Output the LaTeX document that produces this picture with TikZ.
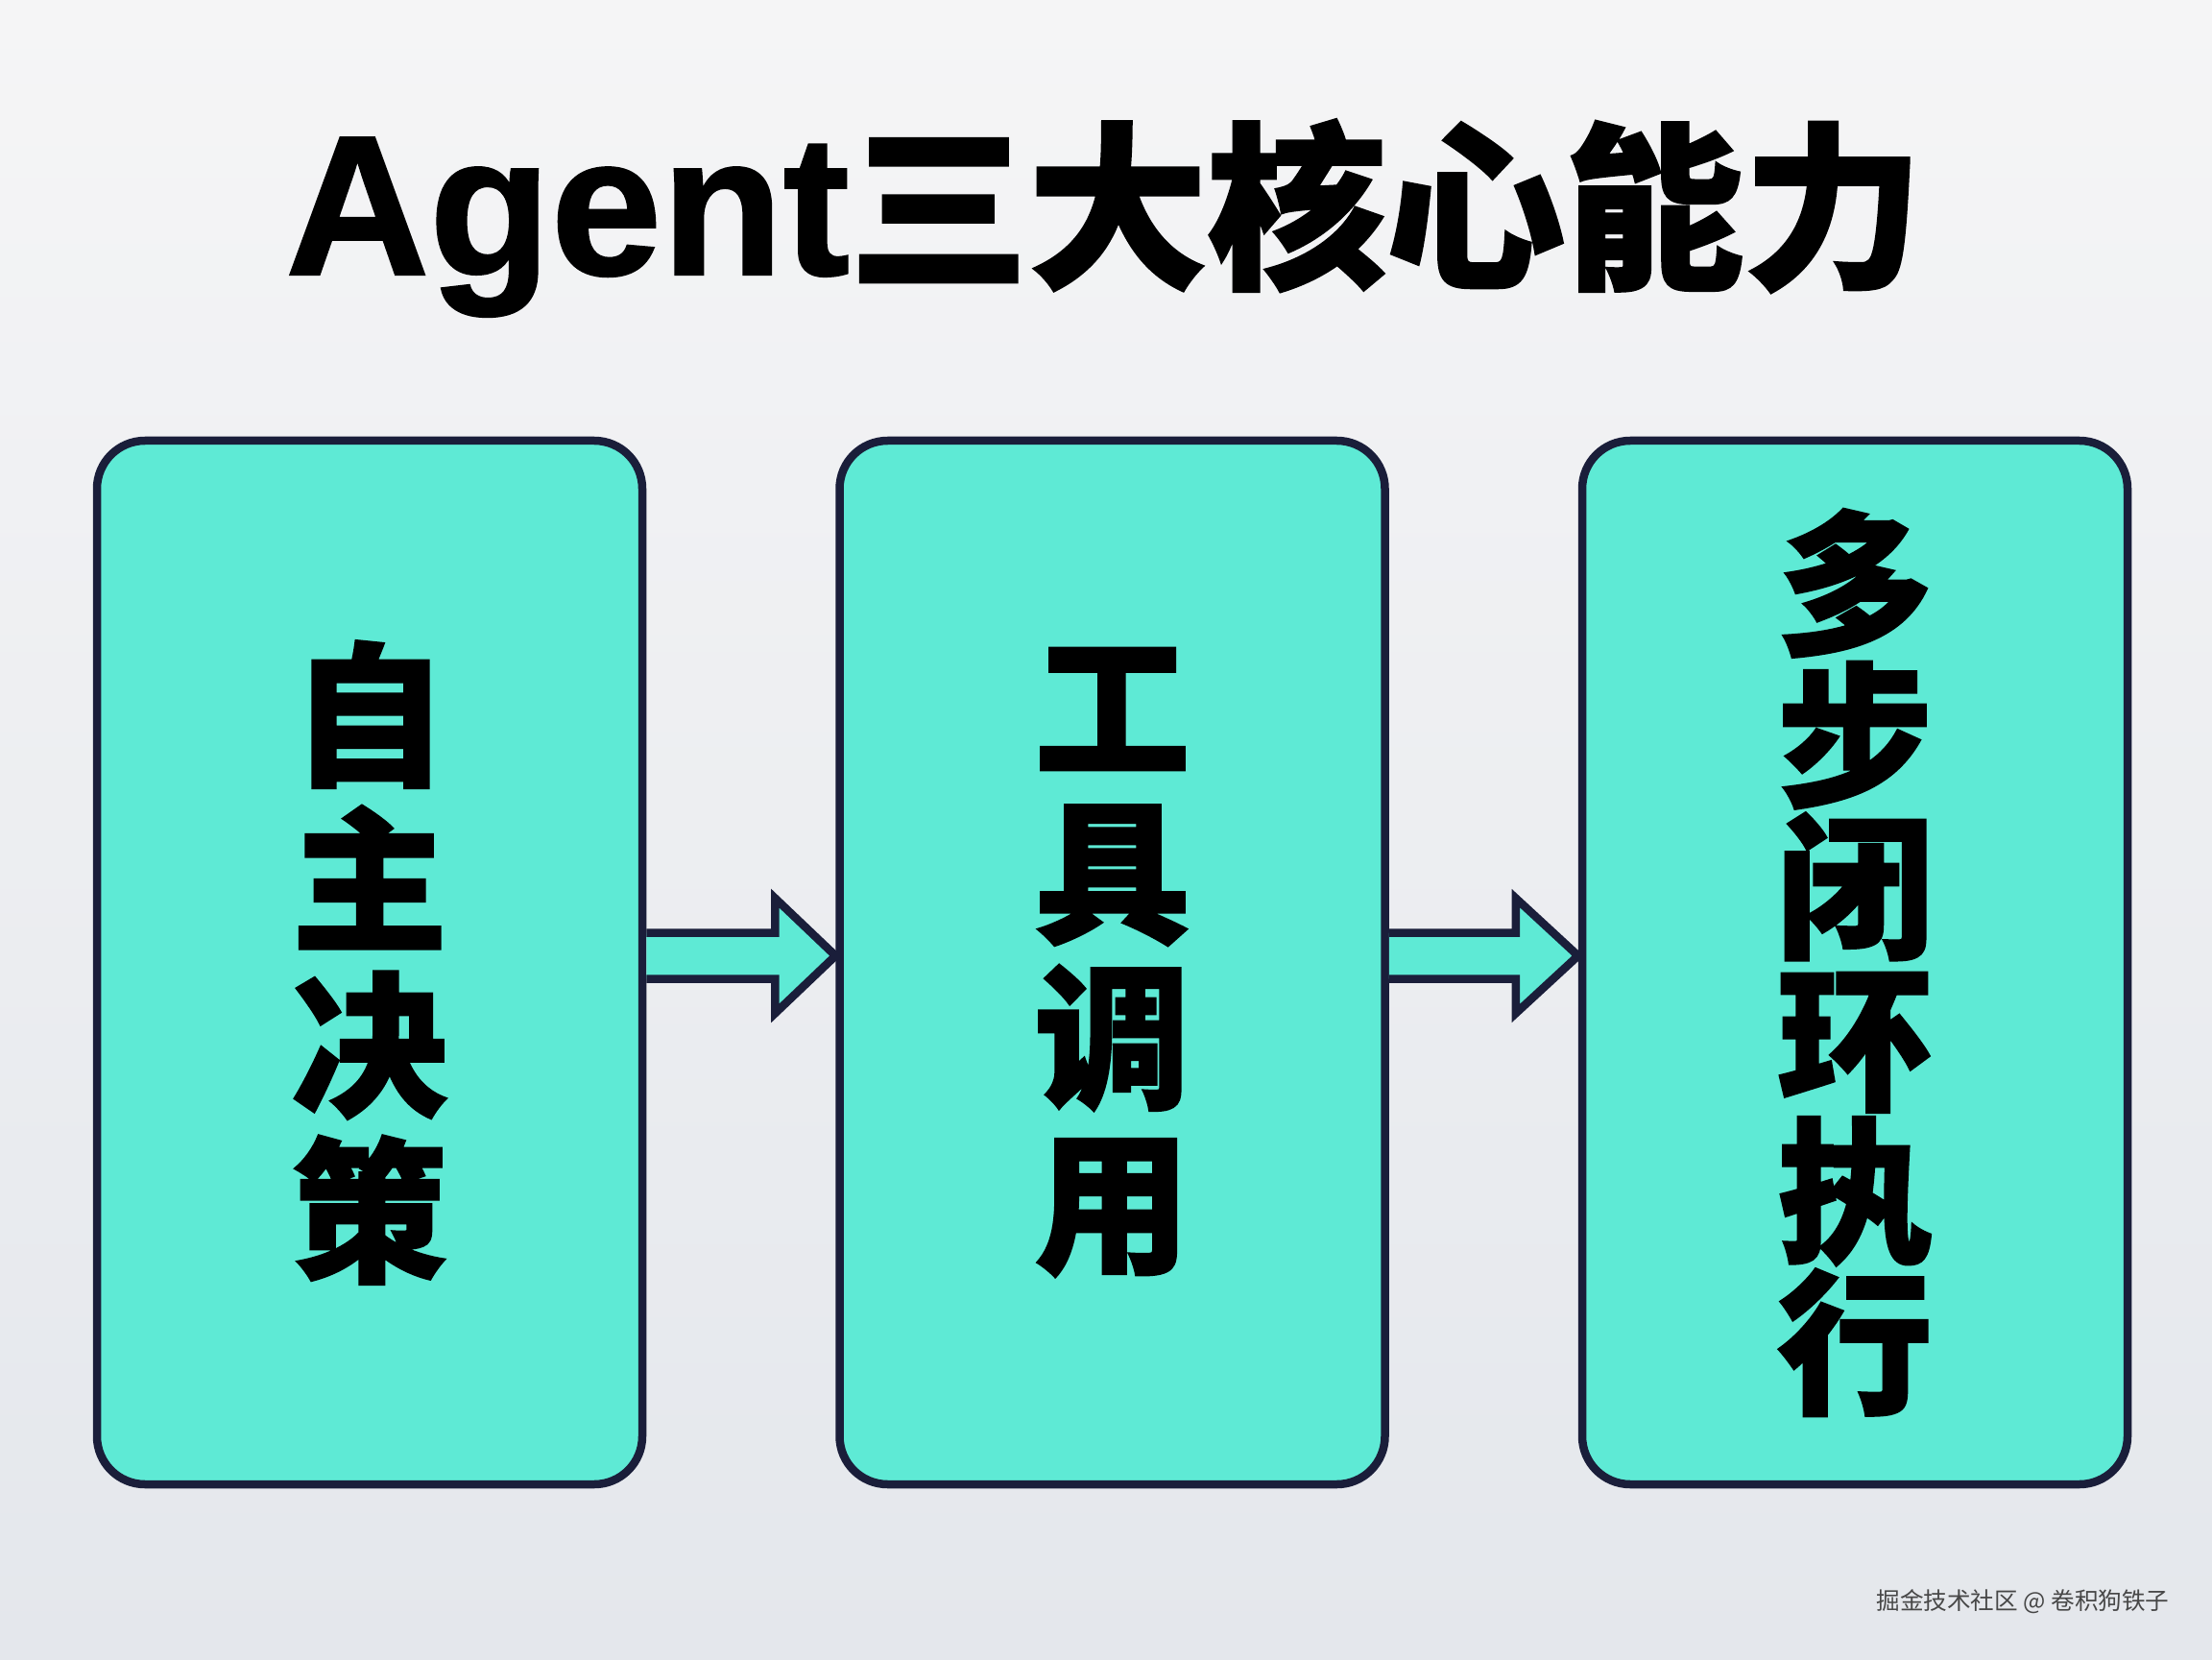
\documentclass[tikz,border=0pt]{standalone}
\usepackage{fontspec}
\usepackage{xcolor}
\newfontfamily\cjk{Noto Sans CJK SC}
\newfontfamily\cjkheavy{Noto Sans CJK SC}[FakeBold=1.6]
\newfontfamily\latin{Liberation Sans}[FakeBold=1.2]
\usetikzlibrary{positioning,calc}
\definecolor{agTeal}{RGB}{94,234,213}
\definecolor{agNavy}{RGB}{26,30,58}
\definecolor{agBgTop}{RGB}{245,245,246}
\definecolor{agBgBottom}{RGB}{228,231,236}

\begin{document}
\begin{tikzpicture}[node distance=1.97cm,
  capbox/.style={draw=agNavy,line width=0.085cm,rounded corners=0.5cm,fill=agTeal,
    minimum width=5.68cm,minimum height=10.87cm,align=center,
    font=\cjkheavy\bfseries\fontsize{46}{49}\selectfont},
  flow/.style={draw=agNavy,line width=0.085cm,fill=agTeal,line join=miter}]
\fill[top color=agBgTop,bottom color=agBgBottom] (0,0) rectangle (23.04,17.28);
\useasboundingbox (0,0) rectangle (23.04,17.28);
\node[anchor=base,font=\cjkheavy\bfseries\fontsize{53}{60}\selectfont] (title) at (11.5,14.42)
  {{\latin\bfseries\fontsize{59}{60}\selectfont Agent}三大核心能力};
\node[capbox] (s1) at (3.85,7.255) {自\\主\\决\\策};
\node[capbox,right=of s1] (s2) {工\\具\\调\\用};
\node[capbox,right=of s2,font=\cjkheavy\bfseries\fontsize{46}{45}\selectfont] (s3) {多\\步\\闭\\环\\执\\行};
\draw[flow] ($(s1.east)+(0,0.31)$) -- ($(s2.west)+(-0.63,0.31)$) -- ($(s2.west)+(-0.63,0.67)$) -- ($(s2.west)+(0,0.07)$)
  -- ($(s2.west)+(-0.63,-0.53)$) -- ($(s2.west)+(-0.63,-0.17)$) -- ($(s1.east)+(0,-0.17)$);
\draw[flow] ($(s2.east)+(0,0.31)$) -- ($(s3.west)+(-0.65,0.31)$) -- ($(s3.west)+(-0.65,0.67)$) -- ($(s3.west)+(0,0.07)$)
  -- ($(s3.west)+(-0.65,-0.53)$) -- ($(s3.west)+(-0.65,-0.17)$) -- ($(s2.east)+(0,-0.17)$);
\node[font=\cjk\fontsize{7}{8}\selectfont,text=black!72] (mark) at (21.07,0.60) {掘金技术社区 @ 卷积狗铁子};
\end{tikzpicture}
\end{document}
